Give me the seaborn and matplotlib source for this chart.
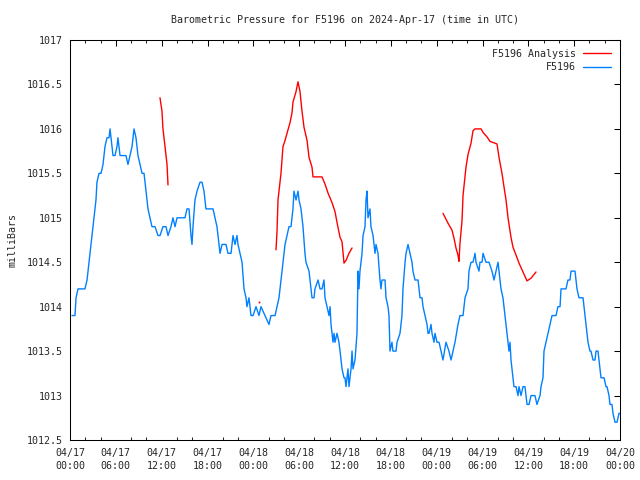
import pandas as pd
import seaborn as sns
import matplotlib.pyplot as plt
from matplotlib.ticker import FuncFormatter, MultipleLocator

# Horas desde 2024-04-17 00:00 UTC e pressao observada (milliBars)
obs_horas = [0.26, 0.65, 0.79, 1.05, 1.96, 2.23, 2.49, 2.75, 3.01, 3.14, 3.40, 3.53, 3.80, 4.06, 4.32, 4.58,
             4.84, 5.11, 5.24, 5.37, 5.50, 5.63, 5.89, 6.15, 6.28, 6.41, 6.55, 6.81, 7.33, 7.59, 7.85, 8.12,
             8.38, 8.64, 8.90, 9.16, 9.43, 9.69, 9.95, 10.21, 10.47, 10.73, 11.13, 11.52, 11.78, 12.17, 12.57,
             12.83, 13.22, 13.48, 13.75, 14.01, 15.05, 15.32, 15.58, 15.84, 15.97, 16.10, 16.36, 16.63, 17.02,
             17.28, 17.54, 17.80, 18.72, 18.98, 19.24, 19.37, 19.64, 19.90, 20.16, 20.42, 20.68, 21.08, 21.34,
             21.60, 21.86, 21.99, 22.25, 22.52, 22.78, 23.04, 23.17, 23.43, 23.69, 23.96, 24.35, 24.74, 25.00,
             25.53, 26.05, 26.31, 26.84, 27.10, 27.36, 27.49, 27.75, 28.01, 28.15, 28.41, 28.67, 28.93, 29.19,
             29.32, 29.59, 29.85, 29.98, 30.24, 30.50, 30.76, 30.89, 31.29, 31.42, 31.68, 31.94, 32.07, 32.47,
             32.73, 32.99, 33.25, 33.38, 33.64, 33.91, 34.04, 34.17, 34.43, 34.56, 34.69, 34.95, 35.21, 35.35,
             35.61, 35.87, 36.00, 36.13, 36.39, 36.52, 36.79, 36.92, 37.05, 37.31, 37.57, 37.70, 37.83, 37.96,
             38.23, 38.36, 38.62, 38.75, 38.88, 39.01, 39.27, 39.40, 39.67, 39.93, 40.06, 40.32, 40.58, 40.71,
             40.84, 41.24, 41.37, 41.63, 41.76, 41.89, 42.15, 42.28, 42.68, 42.81, 43.20, 43.46, 43.59, 43.86,
             43.99, 44.25, 44.51, 44.77, 44.90, 45.16, 45.56, 45.82, 46.08, 46.21, 46.47, 46.74, 46.87, 47.00,
             47.26, 47.39, 47.65, 47.78, 48.04, 48.17, 48.31, 48.57, 48.83, 49.22, 49.61, 49.88, 50.14, 50.40,
             50.79, 51.05, 51.45, 51.71, 52.10, 52.23, 52.50, 52.76, 53.02, 53.15, 53.54, 53.67, 53.94, 54.07,
             54.46, 54.85, 55.24, 55.51, 55.77, 56.03, 56.16, 56.42, 56.68, 56.81, 57.08, 57.34, 57.47, 57.60,
             57.73, 57.99, 58.12, 58.39, 58.65, 58.78, 59.04, 59.30, 59.56, 59.83, 59.96, 60.09, 60.35, 60.87,
             61.13, 61.53, 61.66, 61.92, 62.05, 62.31, 62.58, 62.84, 63.10, 63.62, 63.88, 64.15, 64.28, 64.93,
             65.19, 65.45, 65.59, 66.11, 66.37, 66.63, 66.89, 67.16, 67.42, 67.55, 67.81, 68.07, 68.20, 68.47,
             68.73, 68.86, 69.12, 69.38, 69.51, 69.91, 70.17, 70.30, 70.56, 70.69, 70.95, 71.08, 71.35, 71.61,
             71.87, 72.00]
obs_mb = [1013.9, 1013.9, 1014.1, 1014.2, 1014.2, 1014.3, 1014.5, 1014.7, 1014.9, 1015.0, 1015.2, 1015.4,
          1015.5, 1015.5, 1015.6, 1015.8, 1015.9, 1015.9, 1016.0, 1015.9, 1015.8, 1015.7, 1015.7, 1015.8,
          1015.9, 1015.8, 1015.7, 1015.7, 1015.7, 1015.6, 1015.7, 1015.8, 1016.0, 1015.9, 1015.7, 1015.6,
          1015.5, 1015.5, 1015.3, 1015.1, 1015.0, 1014.9, 1014.9, 1014.8, 1014.8, 1014.9, 1014.9, 1014.8,
          1014.9, 1015.0, 1014.9, 1015.0, 1015.0, 1015.1, 1015.1, 1014.8, 1014.7, 1014.9, 1015.2, 1015.3,
          1015.4, 1015.4, 1015.3, 1015.1, 1015.1, 1015.0, 1014.9, 1014.8, 1014.6, 1014.7, 1014.7, 1014.7,
          1014.6, 1014.6, 1014.8, 1014.7, 1014.8, 1014.7, 1014.6, 1014.5, 1014.2, 1014.1, 1014.0, 1014.1,
          1013.9, 1013.9, 1014.0, 1013.9, 1014.0, 1013.9, 1013.8, 1013.9, 1013.9, 1014.0, 1014.1, 1014.2,
          1014.4, 1014.6, 1014.7, 1014.8, 1014.9, 1014.9, 1015.1, 1015.3, 1015.2, 1015.3, 1015.2, 1015.1,
          1014.9, 1014.6, 1014.5, 1014.4, 1014.3, 1014.1, 1014.1, 1014.2, 1014.3, 1014.2, 1014.2, 1014.3,
          1014.1, 1014.0, 1013.9, 1014.0, 1013.8, 1013.6, 1013.7, 1013.6, 1013.7, 1013.6, 1013.5, 1013.3,
          1013.2, 1013.2, 1013.1, 1013.3, 1013.1, 1013.3, 1013.5, 1013.3, 1013.4, 1013.7, 1014.4, 1014.2,
          1014.4, 1014.6, 1014.8, 1014.9, 1015.2, 1015.3, 1015.0, 1015.1, 1014.9, 1014.8, 1014.6, 1014.7,
          1014.6, 1014.3, 1014.2, 1014.3, 1014.3, 1014.1, 1014.0, 1013.9, 1013.5, 1013.6, 1013.5, 1013.5,
          1013.6, 1013.7, 1013.9, 1014.2, 1014.5, 1014.6, 1014.7, 1014.6, 1014.5, 1014.4, 1014.3, 1014.3,
          1014.1, 1014.1, 1014.0, 1013.9, 1013.8, 1013.7, 1013.7, 1013.8, 1013.7, 1013.6, 1013.7, 1013.6,
          1013.6, 1013.6, 1013.5, 1013.4, 1013.6, 1013.5, 1013.4, 1013.5, 1013.6, 1013.8, 1013.9, 1013.9,
          1014.1, 1014.2, 1014.4, 1014.5, 1014.5, 1014.6, 1014.5, 1014.4, 1014.5, 1014.5, 1014.6, 1014.5,
          1014.5, 1014.4, 1014.3, 1014.4, 1014.5, 1014.4, 1014.2, 1014.1, 1014.0, 1013.8, 1013.6, 1013.5,
          1013.6, 1013.4, 1013.2, 1013.1, 1013.1, 1013.0, 1013.1, 1013.0, 1013.1, 1013.1, 1012.9, 1012.9,
          1012.9, 1013.0, 1013.0, 1012.9, 1013.0, 1013.1, 1013.2, 1013.5, 1013.6, 1013.7, 1013.8, 1013.9,
          1013.9, 1014.0, 1014.0, 1014.2, 1014.2, 1014.3, 1014.3, 1014.4, 1014.4, 1014.2, 1014.1, 1014.1,
          1014.1, 1013.9, 1013.8, 1013.6, 1013.5, 1013.5, 1013.4, 1013.4, 1013.5, 1013.5, 1013.3, 1013.2,
          1013.2, 1013.1, 1013.1, 1013.0, 1012.9, 1012.9, 1012.8, 1012.7, 1012.7, 1012.8, 1012.8]

# Analise (tres trechos separados)
analise1_horas = [11.78, 12.04, 12.17, 12.44, 12.70, 12.83]
analise1_mb = [1016.35, 1016.2, 1016.0, 1015.8, 1015.6, 1015.37]

analise2_horas = [26.97, 27.10, 27.23, 27.62, 27.88, 28.15, 28.41, 28.80, 29.06, 29.19, 29.59, 29.85, 30.11,
                  30.37, 30.63, 31.03, 31.29, 31.68, 31.81, 32.99, 33.38, 33.77, 34.30, 34.69, 34.95, 35.35,
                  35.61, 35.87, 36.13, 36.52, 36.92]
analise2_mb = [1014.64, 1014.85, 1015.2, 1015.5, 1015.8, 1015.87, 1015.95, 1016.07, 1016.18, 1016.3, 1016.42,
               1016.53, 1016.42, 1016.2, 1016.02, 1015.87, 1015.68, 1015.57, 1015.46, 1015.46, 1015.38, 1015.28,
               1015.17, 1015.07, 1014.95, 1014.78, 1014.73, 1014.49, 1014.52, 1014.6, 1014.66]

analise3_horas = [48.83, 49.48, 50.01, 50.27, 50.53, 50.79, 50.92, 51.05, 51.32, 51.45, 51.84, 52.10, 52.50,
                  52.76, 53.02, 53.81, 54.07, 54.59, 54.98, 55.90, 56.16, 56.55, 56.81, 57.08, 57.34, 57.73,
                  57.99, 58.39, 58.78, 59.30, 59.83, 60.35, 61.00]
analise3_mb = [1015.05, 1014.94, 1014.86, 1014.77, 1014.66, 1014.58, 1014.51, 1014.71, 1014.97, 1015.25, 1015.57,
               1015.71, 1015.84, 1015.98, 1016.0, 1016.0, 1015.96, 1015.91, 1015.86, 1015.83, 1015.68, 1015.5,
               1015.35, 1015.2, 1015.0, 1014.78, 1014.67, 1014.58, 1014.49, 1014.39, 1014.29, 1014.32, 1014.39]

# ponto isolado da analise
ponto_horas = [24.74]
ponto_mb = [1014.05]

xticks_horas = [0, 6, 12, 18, 24, 30, 36, 42, 48, 54, 60, 66, 72]
xticks_rotulos = ['04/17\n00:00', '04/17\n06:00', '04/17\n12:00', '04/17\n18:00',
                  '04/18\n00:00', '04/18\n06:00', '04/18\n12:00', '04/18\n18:00',
                  '04/19\n00:00', '04/19\n06:00', '04/19\n12:00', '04/19\n18:00',
                  '04/20\n00:00']
yticks_mb = [1012.5, 1013, 1013.5, 1014, 1014.5, 1015, 1015.5, 1016, 1016.5, 1017]

df_obs = pd.DataFrame({'hora': obs_horas, 'mb': obs_mb})
df_analise = pd.concat([
    pd.DataFrame({'hora': h, 'mb': m, 'trecho': i})
    for i, (h, m) in enumerate([(analise1_horas, analise1_mb),
                                (analise2_horas, analise2_mb),
                                (analise3_horas, analise3_mb)])
])

sns.set_style('white')
plt.rcParams['font.family'] = ['DejaVu Sans Mono']
plt.rcParams['font.size'] = 7.2

fig = plt.figure(figsize=(6.4, 4.8), dpi=100)
ax = fig.add_axes([70 / 640, 40 / 480, 550 / 640, 400 / 480])

sns.lineplot(data=df_analise, x='hora', y='mb', units='trecho', estimator=None,
             color='#ff0000', linewidth=1.0, label='F5196 Analysis', ax=ax, legend=False)
sns.scatterplot(x=ponto_horas, y=ponto_mb, color='#ff0000', s=2, linewidth=0, ax=ax, legend=False)
sns.lineplot(data=df_obs, x='hora', y='mb', estimator=None, color='#0080ff', linewidth=1.0,
             label='F5196', ax=ax, legend=False)

ax.set_xlim(0, 72)
ax.set_ylim(1012.5, 1017)
ax.set_xticks(xticks_horas)
ax.set_xticklabels(xticks_rotulos)
for lbl in ax.get_xticklabels():
    lbl.set_linespacing(1.3)
ax.xaxis.set_minor_locator(MultipleLocator(2))
ax.set_yticks(yticks_mb)
ax.yaxis.set_major_formatter(FuncFormatter(lambda v, p: '%g' % v))

ax.tick_params(which='major', direction='in', top=True, right=True, length=4.5, width=0.75,
               color='black', labelsize=7.2, pad=5)
ax.tick_params(axis='x', which='minor', direction='in', top=True, bottom=True, length=2.3, width=0.75)
ax.tick_params(axis='x', which='major', pad=6)
for s in ax.spines.values():
    s.set_color('black')
    s.set_linewidth(0.75)

ax.set_xlabel('')
ax.set_ylabel('milliBars', fontsize=7.2, labelpad=7)
ax.set_title('Barometric Pressure for F5196 on 2024-Apr-17 (time in UTC)', fontsize=7.2, pad=12)

# legenda estilo gnuplot: texto a direita, amostra da linha depois
handles, labels = ax.get_legend_handles_labels()
unicos = dict(zip(labels, handles))
leg = ax.legend(list(unicos.values()), list(unicos.keys()), loc='upper right', frameon=False,
                markerfirst=False, handlelength=2.8, handletextpad=0.7, borderaxespad=0.5,
                labelspacing=0.35, fontsize=7.2)
leg._legend_box.align = 'right'

fig.savefig('out.png', dpi=100)
